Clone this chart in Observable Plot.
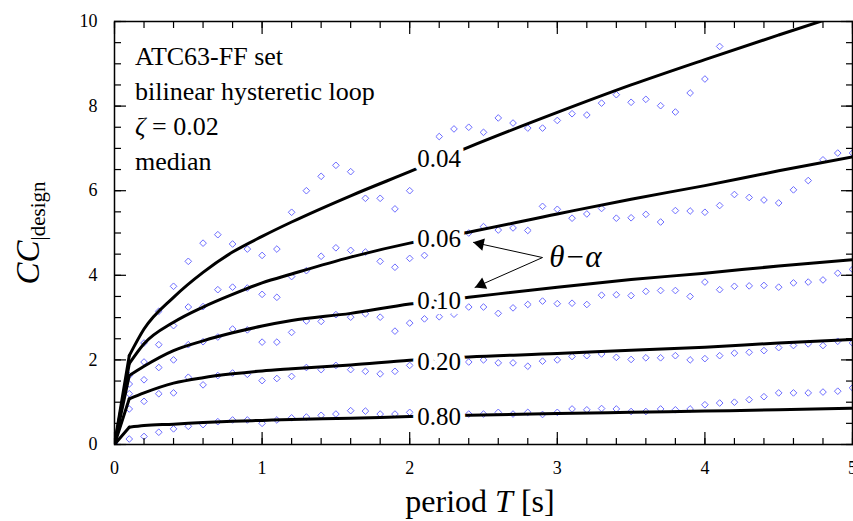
<!DOCTYPE html>
<html><head><meta charset="utf-8">
<script src="https://cdn.jsdelivr.net/npm/d3@7"></script>
<script src="https://cdn.jsdelivr.net/npm/@observablehq/plot@0.6"></script>
<style>body{margin:0;background:#fff;overflow:hidden}</style>
</head><body><div id="chart"></div>
<script>
// period grid of the median points [s]
const periods = [0,0.1,0.2,0.3,0.4,0.5,0.6,0.7,0.8,0.9,1.0,1.1,1.2,1.3,1.4,1.5,1.6,1.7,1.8,1.9,2.0,
  2.1,2.2,2.3,2.4,2.5,2.6,2.7,2.8,2.9,3.0,3.1,3.2,3.3,3.4,3.5,3.6,3.7,3.8,3.9,4.0,
  4.1,4.2,4.3,4.4,4.5,4.6,4.7,4.8,4.9,5.0];
const seriesNames = ["0.04","0.06","0.10","0.20","0.80"];
// median CC|design (diamonds)
const med004 = [0,1.63,2.40,3.15,3.74,4.33,4.76,4.96,4.74,4.62,4.47,4.62,5.49,6.00,6.34,6.60,6.45,5.82,5.82,5.57,6.00,
  6.90,7.28,7.46,7.50,7.38,7.72,7.60,7.48,7.48,7.66,7.82,7.79,8.07,8.27,8.09,8.16,8.01,7.86,8.31,8.64,
  9.41,null,null,null,null,null,null,null,null,null];
const med006 = [0,1.43,1.95,2.36,2.81,3.25,3.26,3.66,3.72,3.70,3.55,3.48,3.97,4.11,4.45,4.65,4.59,4.55,4.33,4.19,4.40,
  4.47,4.70,4.85,5.00,5.15,5.07,5.12,5.06,5.63,5.56,5.35,5.45,5.58,5.35,5.36,5.44,5.26,5.53,5.52,5.49,
  5.65,5.91,5.84,5.78,5.71,6.02,6.24,6.73,6.89,6.89];
const med010 = [0,1.20,1.53,1.82,2.00,2.36,2.43,2.54,2.73,2.71,2.42,2.42,2.65,2.92,2.91,3.07,3.01,3.09,3.01,2.68,2.87,
  2.97,3.02,3.08,3.25,3.25,3.10,3.23,3.31,3.39,3.33,3.34,3.31,3.53,3.54,3.52,3.62,3.64,3.64,3.50,3.84,
  3.66,3.74,3.75,3.76,3.72,3.82,3.84,3.89,4.05,4.14];
const med020 = [0,0.84,1.02,1.20,1.22,1.59,1.41,1.63,1.69,1.66,1.51,1.56,1.61,1.82,1.77,1.87,1.77,1.73,1.67,1.73,1.87,
  1.90,1.92,1.95,1.95,2.00,1.93,1.93,1.85,1.97,2.00,2.08,2.10,2.14,2.06,2.01,2.05,2.05,2.10,2.00,2.03,
  2.10,2.16,2.18,2.22,2.29,2.34,2.38,2.34,2.44,2.40];
const med080 = [0,0.13,0.19,0.29,0.37,0.43,0.47,0.54,0.58,0.58,0.50,0.58,0.63,0.65,0.69,0.72,0.80,0.79,0.72,0.72,0.76,
  0.74,0.73,0.73,0.72,0.72,0.76,0.72,0.76,0.71,0.76,0.84,0.82,0.85,0.84,0.78,0.78,0.84,0.82,0.84,0.94,
  0.98,1.00,1.06,1.13,1.22,1.22,1.22,1.24,1.26,1.34];
// design curves (black lines)
const curveT = [0,0.1,0.2,0.4,0.6,0.8,1.0,1.2,1.6,2.0,2.4,3.0,3.5,4.0,4.5,5.0];
const fit004 = [0,2.10,2.73,3.48,4.07,4.55,4.92,5.26,5.88,6.45,7.03,7.85,8.50,9.10,9.68,10.25];
const fit006 = [0,1.91,2.38,2.89,3.25,3.55,3.82,4.03,4.43,4.76,5.02,5.45,5.80,6.12,6.47,6.80];
const fit010 = [0,1.63,1.85,2.22,2.45,2.64,2.80,2.93,3.10,3.32,3.48,3.72,3.90,4.05,4.22,4.37];
const fit020 = [0,1.08,1.22,1.45,1.58,1.67,1.74,1.79,1.88,1.99,2.07,2.15,2.23,2.30,2.40,2.48];
const fit080 = [0,0.41,0.45,0.48,0.52,0.55,0.57,0.59,0.62,0.66,0.69,0.73,0.76,0.79,0.82,0.86];
// curve labels
const labelT = [2.2,2.2,2.2,2.2,2.2];
const labelV = [6.74,4.85,3.40,1.96,0.66];
// θ−α annotation
const annoText = ["θ−α"];
const annoPos = [{T:2.945, v:4.42}];
const arrowFrom = [{T:2.90, v:4.42},{T:2.90, v:4.42}];
const arrowTo = [{T:2.43, v:4.78},{T:2.44, v:3.71}];
const arrowRot = [-78,-114];
// axis ticks
const xTicks = [0,1,2,3,4,5];
const yTicks = [0,2,4,6,8,10];

const medians = [med004,med006,med010,med020,med080];
const fits = [fit004,fit006,fit010,fit020,fit080];
const points = [];
seriesNames.forEach((s,i)=>periods.forEach((t,j)=>{const v=medians[i][j]; if(v!=null) points.push({s,T:t,v});}));
const curveRows = [];
seriesNames.forEach((s,i)=>curveT.forEach((t,j)=>curveRows.push({s,T:t,v:fits[i][j]})));
const labels = seriesNames.map((s,i)=>({s,T:labelT[i],v:labelV[i]}));
const links = arrowFrom.map((a,i)=>({x1:a.T,y1:a.v,x2:arrowTo[i].T,y2:arrowTo[i].v}));
const heads = arrowTo.map((b,i)=>{const a=arrowFrom[i];return {T:b.T+(a.T-b.T)*0.1,v:b.v+(a.v-b.v)*0.1,rot:arrowRot[i]};});
const xMinor = d3.range(0,5.0001,0.2), yMinor = d3.range(0,10.0001,0.5);

const serif = "Liberation Serif";
const fmt = d => String(d);

const chart = Plot.plot({
  width: 853, height: 521,
  marginLeft: 114, marginRight: 1, marginTop: 21, marginBottom: 77,
  x: {domain:[0,5]},
  y: {domain:[0,10]},
  style: {fontFamily: serif, fontSize: "18px", background: "white", color: "black"},
  marks: [
    Plot.dot(points, {x:"T", y:"v", symbol:"diamond2", r:3, stroke:"#6c6cff", strokeWidth:1, clip:true}),
    Plot.line(curveRows.filter(d=>d.T>=0.1), {x:"T", y:"v", z:"s", curve:"monotone-x", stroke:"black", strokeWidth:3, clip:true}),
    Plot.line(curveRows.filter(d=>d.T<=0.1), {x:"T", y:"v", z:"s", stroke:"black", strokeWidth:3, clip:true}),
    Plot.text(labels, {x:"T", y:"v", text:"s", fontSize:25, fontFamily:serif, fill:"black", stroke:"white", strokeWidth:10}),
    Plot.link(links, {x1:"x1", y1:"y1", x2:"x2", y2:"y2", stroke:"black", strokeWidth:1}),
    Plot.dot(heads, {x:"T", y:"v", symbol:"triangle", r:4.6, fill:"black", stroke:"none", rotate:"rot"}),
    Plot.text(annoPos, {x:"T", y:"v", text:()=>annoText[0], fontSize:31, fontFamily:serif, fontStyle:"italic", textAnchor:"start", fill:"black"}),
    Plot.frame({stroke:"black", strokeWidth:1.5}),
    Plot.axisX(xTicks, {anchor:"bottom", tickSize:-12, fill:"none", strokeWidth:1.2}),
    Plot.axisX(xMinor, {anchor:"bottom", tickSize:-6, fill:"none", strokeWidth:1.2}),
    Plot.axisX(xTicks, {anchor:"top", tickSize:-12, fill:"none", strokeWidth:1.2}),
    Plot.axisX(xMinor, {anchor:"top", tickSize:-6, fill:"none", strokeWidth:1.2}),
    Plot.axisY(yTicks, {anchor:"left", tickSize:-12, fill:"none", strokeWidth:1.2}),
    Plot.axisY(yMinor, {anchor:"left", tickSize:-7, fill:"none", strokeWidth:1.2}),
    Plot.axisY(yTicks, {anchor:"right", tickSize:-12, fill:"none", strokeWidth:1.2}),
    Plot.axisY(yMinor, {anchor:"right", tickSize:-7, fill:"none", strokeWidth:1.2}),
    Plot.axisX(xTicks, {anchor:"bottom", tickSize:0, tickPadding:17, label:null, fontSize:18, fontFamily:serif, tickFormat:fmt}),
    Plot.axisY(yTicks, {anchor:"left", tickSize:0, tickPadding:17, label:null, fontSize:18, fontFamily:serif, tickFormat:fmt})
  ]
});
document.getElementById("chart").appendChild(chart);

const svg = d3.select(chart);
const g = svg.append("g").attr("font-family", serif).attr("fill", "black").attr("text-anchor","start");
// info block
const info = g.append("text").attr("font-size", 26).attr("text-anchor","start");
info.append("tspan").attr("x",135).attr("y",65).text("ATC63-FF set");
info.append("tspan").attr("x",135).attr("y",99.5).text("bilinear hysteretic loop");
const zl = info.append("tspan").attr("x",135).attr("y",135);
zl.append("tspan").attr("font-style","italic").text("ζ");
zl.append("tspan").text(" = 0.02");
info.append("tspan").attr("x",135).attr("y",170).text("median");
// x label
const xl = g.append("text").attr("x",480).attr("y",512).attr("text-anchor","middle").attr("font-size",32);
xl.append("tspan").text("period ");
xl.append("tspan").attr("font-style","italic").text("T");
xl.append("tspan").text(" [s]");
// y label
const yl = g.append("text").attr("transform","translate(39,233) rotate(-90)").attr("text-anchor","middle").attr("font-size",33);
yl.append("tspan").attr("font-style","italic").text("CC");
yl.append("tspan").attr("font-size",21).attr("dy",6).text("|design");

// force the serif face on every text element
svg.attr("font-family", serif);
svg.selectAll("g").filter(function(){return this.hasAttribute("font-family");}).attr("font-family", serif);
svg.selectAll("text, tspan").attr("font-family", serif).style("font-family", serif);
</script></body></html>
